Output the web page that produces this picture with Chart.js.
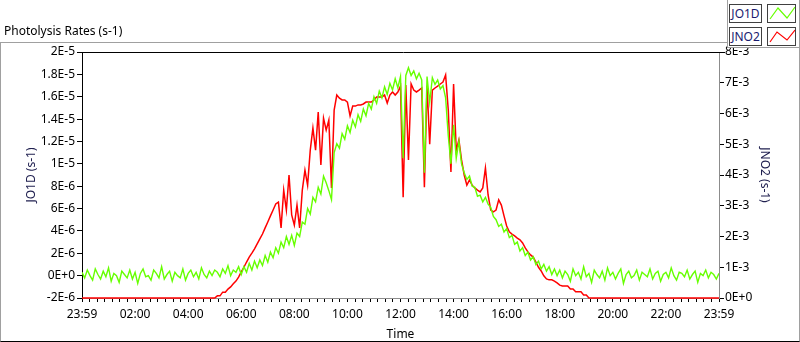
<!DOCTYPE html>
<html>
<head>
<meta charset="utf-8">
<style>
    html, body { margin: 0; padding: 0; background: #fff; }
    #wrap { position: relative; width: 800px; height: 342px; overflow: hidden; font-family: "Noto Sans", sans-serif; }
    #frame { position: absolute; left: 0; top: 42px; width: 798px; height: 298px; border: 1px solid #a0a0a0; border-bottom-color: #000; }
    #title { position: absolute; left: 4px; top: 23px; font-size: 12px; line-height: 16px; color: #000; z-index: 3; }
    #legend { position: absolute; left: 727px; top: 0; width: 71px; height: 47px; border: 1px solid #a0a0a0; border-top: none; background: #fff; z-index: 3; }
    .lname, .licon { position: absolute; box-sizing: border-box; height: 19px; border: 1px solid #404040; background: #fff; }
    .lname { width: 33px; font-size: 12px; line-height: 17px; text-align: center; color: #1a1a6e; }
    .licon { width: 29px; }
    #investmentChart { position: absolute; left: 0; top: 0; z-index: 2; }
</style>
</head>
<body>
<div id="wrap">
    <div id="frame"></div>
    <div id="title">Photolysis Rates (s-1)</div>
    <div id="legend">
        <div class="lname" style="left:1px; top:4px;">JO1D</div>
        <svg class="licon" style="left:39px; top:4px;" width="29" height="19"><polyline points="2,14 10,3 19,13 27,2" fill="none" stroke="#66ff00" stroke-width="1.2"/></svg>
        <div class="lname" style="left:1px; top:27px;">JNO2</div>
        <svg class="licon" style="left:39px; top:27px;" width="29" height="19"><polyline points="2,14 9,4 19,12 27,2" fill="none" stroke="#ff0000" stroke-width="1.2"/></svg>
    </div>
    <canvas id="investmentChart" width="800" height="342"></canvas>
</div>
<script src="https://cdn.jsdelivr.net/npm/chart.js"></script>
<script>
    // one sample every 6 minutes, from 23:59 to 23:59 (1440 min)
    const stepMinutes = 6;

    // JO1D in units of 1E-6 s-1 (left axis)
    const jo1d = [
        0.3, -0.2, 0.5, 0.0, -0.4, 0.6, 0.1, -0.3, 0.4, -0.1,
        0.7, -0.5, 0.2, 0.0, -0.6, 0.4, 0.1, -0.2, 0.5, -0.3,
        0.3, -0.7, 0.2, 0.6, -0.1, 0.0, -0.4, 0.5, 0.2, -0.2,
        0.8, -0.3, 0.1, 0.4, -0.5, 0.3, 0.0, -0.2, 0.6, -0.4,
        0.2, 0.5, -0.1, 0.3, -0.3, 0.7, 0.1, -0.2, 0.4, 0.0,
        0.5,
        0.3, -0.1, 0.6, 0.2, 0.9, 0.0, 0.5, 0.3, 0.8,
        0.1, 0.8, 0.3, 1.1, 0.5, 1.3, 0.7, 1.4, 0.9, 1.8,
        1.2, 2.1, 1.6, 2.5, 2.0, 3.0, 2.5, 3.5, 2.8, 3.6,
        2.7, 3.8, 3.5, 4.8, 4.6, 6.0, 5.5, 7.0, 6.6, 7.9,
        7.3, 8.9, 8.3, 7.6, 6.8,
        11.0, 11.8, 11.4, 12.7, 12.2, 13.4, 12.8, 13.9, 13.3, 14.4,
        13.8, 14.9, 14.3, 15.4, 14.9, 16.0, 15.4, 16.5, 15.9, 16.9,
        16.2, 17.2, 16.6, 17.6, 16.8, 17.8,
        10.5, 17.9, 18.6, 17.9, 18.3, 17.6, 18.1, 17.5, 9.2, 17.8,
        15.5, 17.7, 17.1, 17.5, 16.7, 17.0, 15.9, 12.5, 10.0, 13.5,
        10.5, 12.0, 10.0, 9.2, 8.6, 8.9, 8.0, 7.9, 7.1, 7.2,
        6.6, 7.0, 6.4, 6.1, 5.3, 5.0, 4.4, 4.6, 3.9, 4.2,
        3.4, 3.6, 2.8, 3.0, 2.2, 2.5, 1.8, 2.1, 1.4, 1.7,
        1.0, 1.3, 0.6, 1.0, 0.4, 0.8, 0.1, 0.6, 0.0, 0.5,
        -0.2, 0.4, 0.1, -0.5, 0.6, 0.0, 0.3, -0.3, 0.8, -0.1,
        0.2, -0.6, 0.5, 0.1, -0.2, 0.4, -0.4, 0.7, 0.0, 0.3,
        -0.3, 0.2, 0.6, -0.7, 0.1, 0.4, -0.2, 0.0, 0.5, -0.4,
        0.3, 0.1, -0.1, 0.6, -0.3, 0.2, 0.4, -0.5, 0.1, 0.3,
        -0.2, 0.7, 0.0, -0.4, 0.3, 0.2, -0.1, 0.5, -0.3, 0.1,
        0.4, -0.6, 0.2, 0.0, 0.5, -0.2, 0.3, 0.1, -0.3, 0.2
    ];

    // JNO2 in units of 1E-3 s-1 (right axis)
    const jno2 = [
        0, 0, 0, 0, 0, 0, 0, 0, 0, 0,
        0, 0, 0, 0, 0, 0, 0, 0, 0, 0,
        0, 0, 0, 0, 0, 0, 0, 0, 0, 0,
        0, 0, 0, 0, 0, 0, 0, 0, 0, 0,
        0, 0, 0, 0, 0, 0, 0, 0, 0, 0,
        0,
        0.07, 0.07, 0.19, 0.19, 0.29, 0.36, 0.46, 0.55, 0.68, 0.85,
        1.0, 1.17, 1.33, 1.46, 1.6, 1.76, 1.92, 2.08, 2.28, 2.47,
        2.67, 2.86, 3.06, 3.12, 2.28, 3.51, 2.86, 4.0, 2.7, 2.37,
        3.02, 2.28, 3.51, 4.16, 3.67, 4.81, 5.53, 4.81, 6.05, 4.33,
        5.85, 5.46, 5.79, 3.58, 6.11, 6.6, 6.5, 6.44, 6.44, 6.37,
        5.92, 6.24, 6.24, 6.28, 6.28, 6.31, 6.37, 6.37, 6.37, 6.44,
        6.54, 6.54, 6.54, 6.6, 6.34, 6.6, 6.7, 6.6, 6.7, 6.89,
        3.28, 6.93, 4.49, 6.96, 6.76, 6.7, 6.76, 6.83, 3.6, 6.9,
        5.0, 6.76, 6.83, 6.89, 6.96, 7.02, 7.25, 6.11, 4.1, 6.96,
        4.81, 5.14, 4.49, 4.0, 3.67, 3.84, 3.67, 3.58, 3.51, 3.45,
        3.58, 4.23, 3.35, 2.86, 2.8, 2.86, 3.19, 3.02, 2.67, 2.34,
        2.15, 2.08, 2.02, 1.95, 1.89, 1.79, 1.63, 1.5, 1.4, 1.33,
        1.17, 1.0, 0.88, 0.72, 0.62, 0.59, 0.59, 0.55, 0.49, 0.42,
        0.39, 0.39, 0.39, 0.29, 0.29, 0.2, 0.2, 0.2, 0.1, 0.1,
        0, 0, 0, 0, 0, 0, 0, 0, 0, 0,
        0, 0, 0, 0, 0, 0, 0, 0, 0, 0,
        0, 0, 0, 0, 0, 0, 0, 0, 0, 0,
        0, 0, 0, 0, 0, 0, 0, 0, 0, 0,
        0, 0, 0, 0, 0, 0, 0, 0, 0, 0
    ];

    const timeLabels = ['23:59', '02:00', '04:00', '06:00', '08:00', '10:00', '12:00', '14:00', '16:00', '18:00', '20:00', '22:00', '23:59'];
    const leftTickLabels = ['-2E-6', '0E+0', '2E-6', '4E-6', '6E-6', '8E-6', '1E-5', '1.2E-5', '1.4E-5', '1.6E-5', '1.8E-5', '2E-5'];
    const rightTickLabels = ['0E+0', '1E-3', '2E-3', '3E-3', '4E-3', '5E-3', '6E-3', '7E-3', '8E-3'];
    const minorPerMajor = 7;

    document.addEventListener('DOMContentLoaded', function() {
        const font = { family: '"Noto Sans", sans-serif', size: 12 };
        const toPoints = arr => arr.map((v, i) => ({ x: i * stepMinutes, y: v }));

        // black top edge of the plot area
        const topLine = {
            id: 'topLine',
            afterDraw(chart) {
                const { ctx, chartArea: a } = chart;
                ctx.save();
                ctx.strokeStyle = '#000';
                ctx.lineWidth = 1;
                ctx.beginPath();
                ctx.moveTo(a.left, a.top + 0.5);
                ctx.lineTo(a.right + 6, a.top + 0.5);
                ctx.stroke();
                ctx.restore();
            }
        };

        new Chart(document.getElementById('investmentChart'), {
            type: 'line',
            data: {
                datasets: [{
                    label: 'JO1D',
                    data: toPoints(jo1d),
                    yAxisID: 'yL',
                    borderColor: '#66ff00',
                    borderWidth: 1.4,
                    pointRadius: 0
                }, {
                    label: 'JNO2',
                    data: toPoints(jno2),
                    yAxisID: 'yR',
                    borderColor: '#ff0000',
                    borderWidth: 1.5,
                    pointRadius: 0,
                    clip: 3
                }]
            },
            options: {
                responsive: false,
                animation: false,
                layout: { padding: { top: 52, right: 0, bottom: 0, left: 0 } },
                plugins: { legend: { display: false }, tooltip: { enabled: false } },
                scales: {
                    x: {
                        type: 'linear',
                        min: 0,
                        max: 1440,
                        afterBuildTicks: function(scale) {
                            const n = (timeLabels.length - 1) * minorPerMajor;
                            scale.ticks = [];
                            for (let i = 0; i <= n; i++) scale.ticks.push({ value: i * 1440 / n });
                        },
                        afterFit: function(scale) { scale.height = 44; },
                        ticks: {
                            autoSkip: false,
                            maxRotation: 0,
                            padding: 5,
                            color: '#000',
                            font: font,
                            callback: function(value, index) {
                                return index % minorPerMajor === 0 ? timeLabels[index / minorPerMajor] : '';
                            }
                        },
                        grid: { drawOnChartArea: false, tickLength: 4, color: '#000' },
                        border: { color: '#8c8c8c' },
                        title: { display: true, text: 'Time', color: '#000', font: font, padding: { top: 5, bottom: 0 } }
                    },
                    yL: {
                        position: 'left',
                        min: -2,
                        max: 20,
                        afterFit: function(scale) { scale.width = 82; },
                        ticks: {
                            stepSize: 2,
                            padding: 2,
                            color: '#000',
                            font: font,
                            callback: function(value, index) { return leftTickLabels[index]; }
                        },
                        grid: { drawOnChartArea: false, tickLength: 5, color: '#000' },
                        border: { color: '#000' },
                        title: { display: true, text: 'JO1D (s-1)', color: '#202050', font: font, padding: { top: 24, bottom: 0 } }
                    },
                    yR: {
                        position: 'right',
                        min: 0,
                        max: 8,
                        afterFit: function(scale) { scale.width = 81; },
                        ticks: {
                            stepSize: 1,
                            padding: 1,
                            color: '#000',
                            font: font,
                            callback: function(value, index) { return rightTickLabels[index]; }
                        },
                        grid: { drawOnChartArea: false, tickLength: 5, color: '#000' },
                        border: { color: '#8c8c8c' },
                        title: { display: true, text: 'JNO2 (s-1)', color: '#202050', font: font, padding: { top: 28, bottom: 0 } }
                    }
                }
            },
            plugins: [topLine]
        });
    });
</script>
</body>
</html>
